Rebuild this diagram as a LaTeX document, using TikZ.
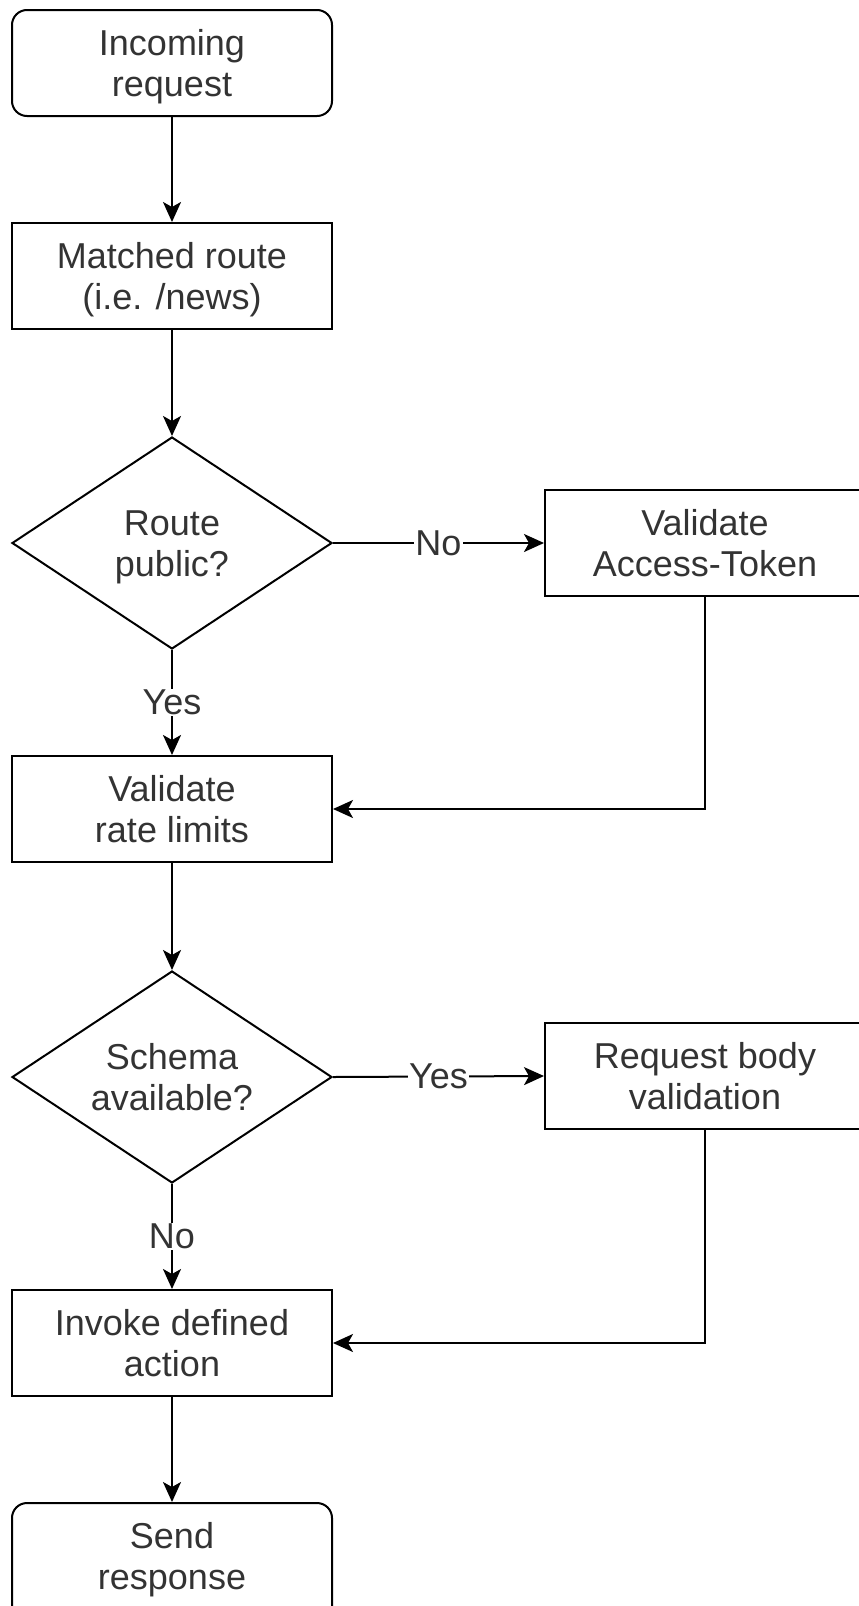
\documentclass[tikz,border=0pt]{standalone}
\usepackage{fontspec}
\setmainfont{Liberation Sans}
\usetikzlibrary{shapes.geometric,arrows.meta}

\begin{document}
\begin{tikzpicture}[x=1pt, y=-1pt,
    box/.style={rectangle, draw, line width=2pt, minimum width=320pt, minimum height=106pt, align=center, text height=74pt, text depth=8pt, text=black!80, font=\fontsize{36}{41}\selectfont},
    term/.style={box, rounded corners=15pt},
    ask/.style={diamond, draw, line width=2pt, aspect=1.5, inner sep=0pt, minimum width=320pt, minimum height=212pt, align=center, text height=74pt, text depth=8pt, text=black!80, font=\fontsize{36}{41}\selectfont},
    lbl/.style={fill=white, inner sep=1pt, text=black!80, font=\fontsize{36}{41}\selectfont},
    link/.style={-{Stealth[length=20pt, width=18pt, inset=5pt]}, line width=2pt}]

    \path[use as bounding box, clip] (0,0) rectangle (859,1606);

    % Column 1: main flow
    \node[term] (IN) at (172,63) {Incoming\\request};
    \node[box] (ROUTE) at (172,276) {Matched route\\(i.e. /news)};
    \node[ask] (PUB) at (172,543) {Route\\public?};
    \node[box] (RATE) at (172,809) {Validate\\rate limits};
    \node[ask] (SCH) at (172,1077) {Schema\\available?};
    \node[box] (ACT) at (172,1343) {Invoke defined\\action};
    \node[term, minimum height=130pt, text height=50pt] (OUT) at (172,1568) {Send\\response};

    % Column 2: side checks
    \node[box] (TOK) at (705,543) {Validate\\Access-Token};
    \node[box] (BODY) at (705,1076) {Request body\\validation};

    % Arrows
    \draw[link] (IN) -- (ROUTE);
    \draw[link] (ROUTE) -- (PUB);
    \draw[link] (PUB.east) -- node[lbl] {No} (TOK.west);
    \draw[link] (PUB.south) -- node[lbl] {Yes} (RATE.north);
    \draw[link] (TOK.south) |- (RATE.east);
    \draw[link] (RATE) -- (SCH);
    \draw[link] (SCH.east) -- node[lbl] {Yes} (BODY.west);
    \draw[link] (SCH.south) -- node[lbl] {No} (ACT.north);
    \draw[link] (BODY.south) |- (ACT.east);
    \draw[link] (ACT) -- (OUT);
\end{tikzpicture}
\end{document}
